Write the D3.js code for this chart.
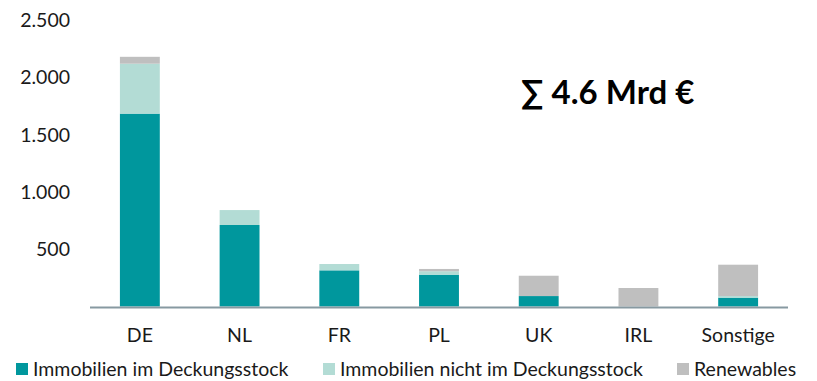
<!DOCTYPE html>
<html>
<head>
<meta charset="utf-8">
<script src="https://cdn.jsdelivr.net/npm/d3@7"></script>
<style>
  html, body { margin: 0; padding: 0; background: #fff; }
  svg { display: block; font-family: Lato, "Open Sans", sans-serif; }
</style>
</head>
<body>
<svg id="chart" width="817" height="381"></svg>
<script>
// Portfolio by country (Mio. €), stacked by asset type
const categories = ["DE", "NL", "FR", "PL", "UK", "IRL", "Sonstige"];
const seriesNames = ["Immobilien im Deckungsstock", "Immobilien nicht im Deckungsstock", "Renewables"];
const deckungsstock = [1680, 710, 315, 277, 91, 0, 77];
const nichtDeckungsstock = [435, 130, 55, 30, 0, 0, 14];
const renewables = [60, 0, 0, 20, 177, 161, 273];
const yTicks = [500, 1000, 1500, 2000, 2500];
const totalLabel = "∑ 4.6 Mrd €";

const colors = ["#00979d", "#b3dcd5", "#bfbfbf"];

const rows = categories.map((c, i) => ({
  cat: c,
  s0: deckungsstock[i],
  s1: nichtDeckungsstock[i],
  s2: renewables[i]
}));
const keys = ["s0", "s1", "s2"];
const stacked = d3.stack().keys(keys)(rows);

const svg = d3.select("#chart");

const x = d3.scaleBand()
  .domain(categories)
  .range([90, 788])
  .paddingInner(0.6)
  .paddingOuter(0.3);

const y = d3.scaleLinear()
  .domain([0, 2500])
  .range([306.5, 19.5]);

const de = d3.formatLocale({ decimal: ",", thousands: ".", grouping: [3], currency: ["", " €"] });
const fmt = de.format(",d");

// Bars
svg.append("g")
  .selectAll("g")
  .data(stacked)
  .join("g")
  .attr("fill", (d, i) => colors[i])
  .selectAll("rect")
  .data(d => d)
  .join("rect")
  .attr("x", d => x(d.data.cat))
  .attr("width", x.bandwidth())
  .attr("y", d => y(d[1]))
  .attr("height", d => y(d[0]) - y(d[1]));

// Y axis (labels only)
const yAxis = d3.axisLeft(y).tickValues(yTicks).tickFormat(fmt).tickSize(0).tickPadding(0);
const gy = svg.append("g").attr("transform", "translate(70,0)").call(yAxis);
gy.select(".domain").remove();
gy.selectAll("text")
  .attr("font-family", "Lato, 'Open Sans', sans-serif")
  .attr("font-size", 19.5)
  .attr("fill", "#1a1a1a")
  .attr("dy", "0.35em");

// X axis
const xAxis = d3.axisBottom(x).tickSize(0).tickPadding(0);
const gx = svg.append("g").attr("transform", `translate(0,${y(0)})`).call(xAxis);
gx.select(".domain")
  .attr("stroke", "#8799a1")
  .attr("stroke-width", 2)
  .attr("d", `M${x.range()[0]},1H${x.range()[1]}`);
gx.selectAll("text")
  .attr("font-family", "Lato, 'Open Sans', sans-serif")
  .attr("font-size", 19.5)
  .attr("fill", "#1a1a1a")
  .attr("dy", 0)
  .attr("y", 35.5);

// Total annotation
svg.append("text")
  .attr("x", 521)
  .attr("y", 104)
  .attr("font-family", "Lato, 'Open Sans', sans-serif")
  .attr("font-weight", "bold")
  .attr("font-size", 33)
  .attr("fill", "#000")
  .text(totalLabel);

// Legend
const legendX = [16, 323, 677];
const lg = svg.append("g").selectAll("g")
  .data(seriesNames)
  .join("g")
  .attr("transform", (d, i) => `translate(${legendX[i]},363)`);
lg.append("rect")
  .attr("width", 12)
  .attr("height", 12)
  .attr("fill", (d, i) => colors[i]);
lg.append("text")
  .attr("x", 17)
  .attr("y", 13)
  .attr("font-size", 19.5)
  .attr("fill", "#1a1a1a")
  .text(d => d);
</script>
</body>
</html>
